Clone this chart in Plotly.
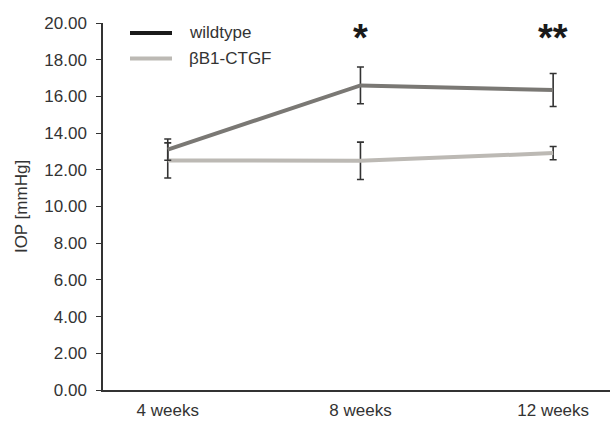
import plotly.graph_objects as go

categories = ["4 weeks", "8 weeks", "12 weeks"]
wildtype = [13.10, 16.60, 16.35]
wildtype_err = [0.58, 1.0, 0.90]
ctgf = [12.51, 12.49, 12.91]
ctgf_err = [0.96, 1.02, 0.36]
signif = ["", "*", "**"]
yticks = [0, 2, 4, 6, 8, 10, 12, 14, 16, 18, 20]
series_names = ["wildtype", "βB1-CTGF"]
legend_colors = ["#1a1a1a", "#bcb9b4"]

FONT = "Liberation Sans, Arial, sans-serif"
xi = list(range(len(categories)))
fig = go.Figure()
err_style = dict(type="data", thickness=1.6, width=3.5, color="#333333")

fig.add_trace(go.Scatter(x=xi, y=ctgf, mode="lines", name=series_names[1],
                         line=dict(color="#bcb9b4", width=4),
                         error_y=dict(array=ctgf_err, **err_style), showlegend=False))
fig.add_trace(go.Scatter(x=xi, y=wildtype, mode="lines", name=series_names[0],
                         line=dict(color="#7a7874", width=4),
                         error_y=dict(array=wildtype_err, **err_style), showlegend=False))

# legend drawn in paper coordinates
W, H, L, R, T, B = 610, 421, 103, 0, 23, 31
pw, ph = W - L - R, H - T - B
def px(x):
    return (x - L) / pw
def py(y):
    return 1 - (y - T) / ph
for k, (nm, col) in enumerate(zip(series_names, legend_colors)):
    yy = 33 + 25.5 * k
    fig.add_shape(type="line", xref="paper", yref="paper", x0=px(130), x1=px(172),
                  y0=py(yy), y1=py(yy), line=dict(color=col, width=4))
    fig.add_annotation(xref="paper", yref="paper", x=px(187), y=py(yy), text=nm,
                       showarrow=False, xanchor="left", yanchor="middle",
                       font=dict(size=17, color="#333333", family=FONT))

for i, s in enumerate(signif):
    if s:
        fig.add_annotation(x=xi[i], y=py(38), yref="paper", xref="x", text="<b>" + s + "</b>",
                           showarrow=False, yanchor="middle",
                           font=dict(size=38, color="#1a1a1a", family=FONT))

fig.update_layout(
    width=W, height=H,
    margin=dict(l=L, r=R, t=T, b=B),
    plot_bgcolor="white", paper_bgcolor="white",
    font=dict(family=FONT, size=17, color="#333333"),
    showlegend=False,
    xaxis=dict(tickmode="array", tickvals=xi, ticktext=categories, range=[-0.336, 2.295],
               showgrid=False, zeroline=False, showline=True, linecolor="#333333", linewidth=2,
               ticks="", fixedrange=True, tickfont=dict(size=17), automargin=False,
               ticklabelstandoff=4),
    yaxis=dict(range=[0, 20], tickvals=yticks, ticktext=[f"{v:.2f}" for v in yticks],
               showgrid=False, zeroline=False, showline=True, linecolor="#333333", linewidth=1.5,
               ticks="outside", ticklen=5, tickcolor="#333333", tickfont=dict(size=17),
               ticklabelstandoff=6, automargin=False,
               title=dict(text="IOP [mmHg]", font=dict(size=17), standoff=12)),
)

fig.write_html("out.html")
